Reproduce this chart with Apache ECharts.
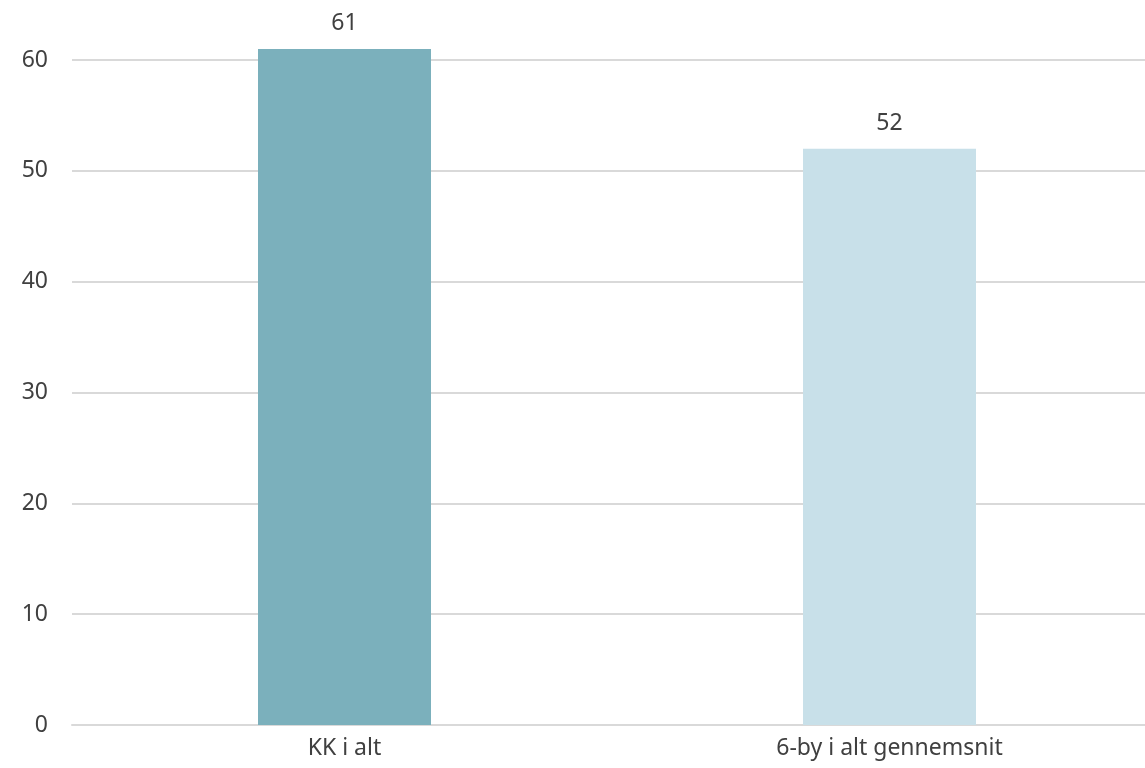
<!DOCTYPE html>
<html>
<head>
<meta charset="utf-8">
<script src="https://cdn.jsdelivr.net/npm/echarts@6/dist/echarts.min.js"></script>
<style>html,body{margin:0;padding:0;background:#fff}#c{width:1145px;height:768px}</style>
</head>
<body>
<div id="c"></div>
<script>
const categories = ["KK i alt", "6-by i alt gennemsnit"];
const values = [61, 52];
const barColors = ["#7bb0bc", "#c8e0e9"];
const yTicks = [0, 10, 20, 30, 40, 50, 60];

const chart = echarts.init(document.getElementById('c'));
chart.setOption({
  animation: false,
  textStyle: { fontFamily: 'Noto Sans' },
  grid: { left: 72, width: 1090, top: 60, height: 665, containLabel: false, outerBoundsMode: 'none' },
  xAxis: {
    type: 'category',
    data: categories,
    axisLine: { show: true, lineStyle: { color: '#d9d9d9', width: 2 } },
    axisTick: { show: false },
    axisLabel: { color: '#404040', fontSize: 23, margin: 12 }
  },
  yAxis: {
    type: 'value',
    min: yTicks[0],
    max: yTicks[yTicks.length - 1],
    interval: 10,
    axisLine: { show: false },
    axisTick: { show: false },
    splitLine: { lineStyle: { color: '#d9d9d9', width: 2 } },
    axisLabel: { color: '#404040', fontSize: 23, margin: 24 }
  },
  series: [{
    type: 'bar',
    clip: false,
    barWidth: 173,
    data: values.map((v, i) => ({ value: v, itemStyle: { color: barColors[i] } })),
    label: { show: true, position: 'top', distance: 14, color: '#404040', fontSize: 23 }
  }]
});
</script>
</body>
</html>
